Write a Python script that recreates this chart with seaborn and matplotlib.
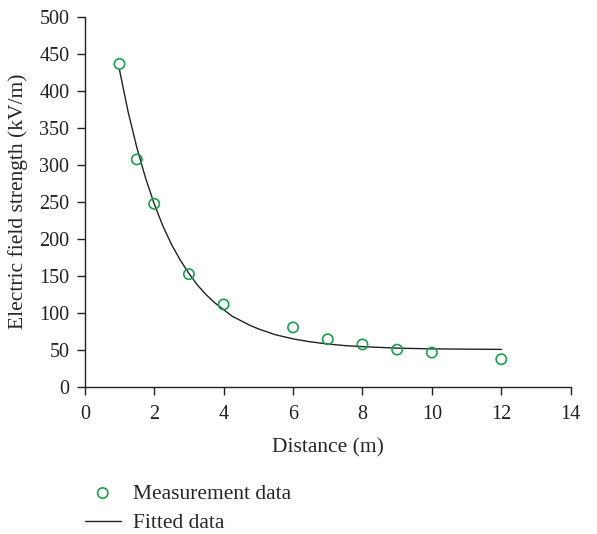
import numpy as np
import pandas as pd
import matplotlib
matplotlib.use("Agg")
import matplotlib.pyplot as plt
import seaborn as sns

# measured points
distance = [1, 1.5, 2, 3, 4, 6, 7, 8, 9, 10, 12]
field = [436, 307, 247, 152, 111, 80, 64, 57, 50, 46, 37]

# fitted curve
fit_x = [1, 1.25, 1.5, 1.75, 2, 2.25, 2.5, 2.75, 3, 3.25, 3.5, 3.75, 4, 4.25, 4.5, 4.75,
         5, 5.5, 6, 6.5, 7, 7.5, 8, 9, 10, 11, 12]
fit_y = [428, 371, 323, 282, 247, 217, 192, 171, 153, 137, 124, 113, 104, 95, 89, 83,
         78, 70, 64.5, 60.5, 57.6, 55.4, 54, 52, 51, 50.6, 50.3]

sns.set_style("ticks")
plt.rcParams['font.family'] = ['Liberation Serif', 'DejaVu Serif']

meas = pd.DataFrame({"x": distance, "y": field})
fit = pd.DataFrame({"x": fit_x, "y": fit_y})

fig = plt.figure(figsize=(5.97, 5.34), dpi=100)
ax = fig.add_axes([0.142, 0.276, 0.814, 0.693])

sns.lineplot(data=fit, x="x", y="y", ax=ax, color="#222222", linewidth=1.0,
             label="Fitted data", legend=False)
sns.scatterplot(data=meas, x="x", y="y", ax=ax, marker="o", s=55,
                facecolors="none", edgecolor="#1a9e4f", linewidth=1.2,
                label="Measurement data", legend=False, zorder=3)

ax.set_xlim(0, 14)
ax.set_ylim(0, 500)
ax.set_xticks(range(0, 15, 2))
ax.set_yticks(range(0, 501, 50))
ax.set_xlabel("Distance (m)", fontsize=15.5)
ax.set_ylabel("Electric field strength (kV/m)", fontsize=15.5)
ax.xaxis.set_label_coords(0.5, -0.139)
ax.yaxis.set_label_coords(-0.117, 0.5)
ax.tick_params(labelsize=14.5, length=6, width=1, direction="out", colors="#222222")
ax.tick_params(axis="x", pad=7.5)
ax.tick_params(axis="y", pad=5)
sns.despine(ax=ax)
for s in ["left", "bottom"]:
    ax.spines[s].set_linewidth(1.0)
    ax.spines[s].set_color("#222222")

handles, labels = ax.get_legend_handles_labels()
order = [labels.index("Measurement data"), labels.index("Fitted data")]
fig.legend([handles[i] for i in order], [labels[i] for i in order],
           loc="center left", bbox_to_anchor=(85 / 597, 1 - 508.5 / 534),
           frameon=False, fontsize=15.5, handlelength=1.65, handletextpad=0.6,
           labelspacing=0.45, borderpad=0, borderaxespad=0)

fig.savefig("out.png", dpi=100)
